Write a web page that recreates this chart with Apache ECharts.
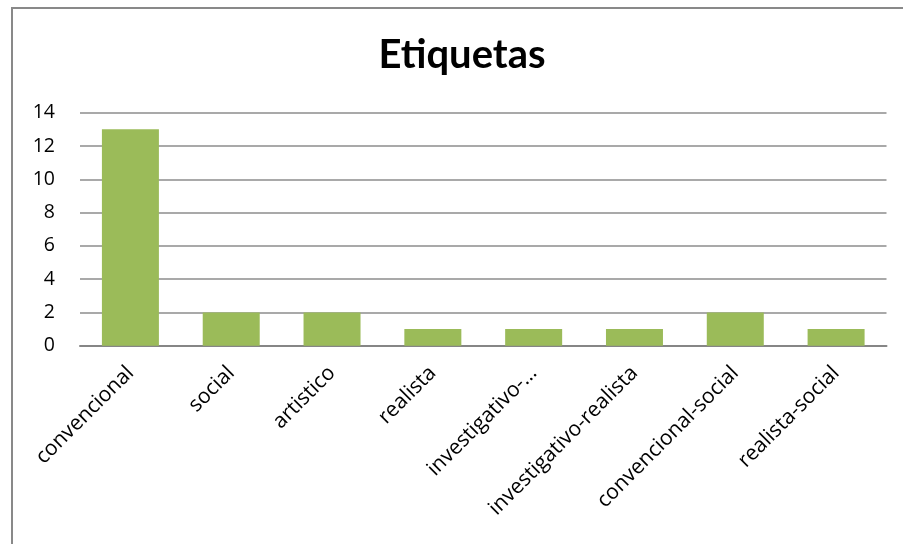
<!DOCTYPE html>
<html><head><meta charset="utf-8">
<script src="https://cdn.jsdelivr.net/npm/echarts@6/dist/echarts.min.js"></script>
<style>html,body{margin:0;padding:0;background:#fff;}#c{width:903px;height:544px;}</style>
</head><body><div id="c"></div>
<script>
const categories = ["convencional","social","artistico","realista","investigativo-…","investigativo-realista","convencional-social","realista-social"];
const values = [13,2,2,1,1,1,2,1];
const titleText = "Etiquetas";

const chart = echarts.init(document.getElementById('c'), null, {renderer:'canvas'});
chart.setOption({
  animation:false,
  backgroundColor:'#ffffff',
  title:{text:titleText,top:30,left:457,textAlign:'center',
    textStyle:{fontFamily:'Lato',fontWeight:'bold',fontSize:40,color:'#000'}},
  graphic:[{type:'rect',shape:{x:12,y:8,width:1000,height:1000},style:{fill:'none',stroke:'#898989',lineWidth:2},silent:true}],
  grid:{left:80,right:16.5,top:112.7,bottom:198.3,containLabel:false},
  xAxis:{type:'category',data:categories,
    axisLine:{lineStyle:{color:'#868686',width:2}},
    axisTick:{show:false},
    axisLabel:{rotate:45,interval:0,margin:24,color:'#000',fontFamily:'Open Sans',fontSize:21}},
  yAxis:{type:'value',min:0,max:14,interval:2,
    axisLine:{show:false},axisTick:{show:false},
    splitLine:{lineStyle:{color:'#8c8c8c',width:1.5}},
    axisLabel:{color:'#000',fontFamily:'Open Sans',fontSize:19.5,margin:25}},
  series:[{type:'bar',data:values,barWidth:57,itemStyle:{color:'#9BBB59'}}]
});
</script></body></html>
